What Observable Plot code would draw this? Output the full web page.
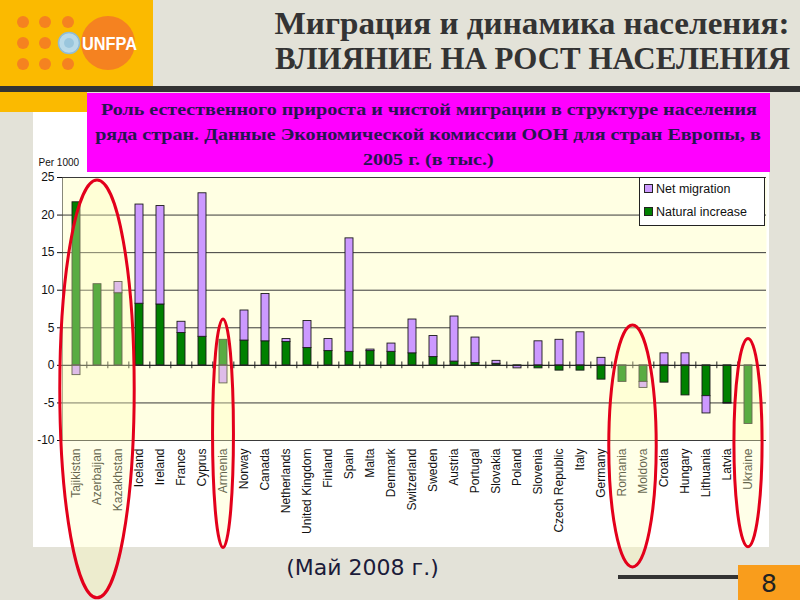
<!DOCTYPE html>
<html>
<head>
<meta charset="utf-8">
<script src="https://cdn.jsdelivr.net/npm/d3@7"></script>
<script src="https://cdn.jsdelivr.net/npm/@observablehq/plot@0.6"></script>
<style>
  html, body { margin: 0; padding: 0; }
  body { width: 800px; height: 600px; position: relative; overflow: hidden;
         background: #e3e2d8; font-family: "Liberation Sans", Arial, sans-serif; }
  .abs { position: absolute; }
  #title { right: 10px; top: 6px; text-align: right; color: #333;
           font-family: "Liberation Serif", "Times New Roman", serif; font-weight: bold; font-size: 31px; line-height: 35px; }
  #title div { white-space: nowrap; height: 35px; }
  #title span { display: inline-block; transform-origin: right center; }
  #topline { left: 0; top: 86px; width: 800px; height: 6px; background: #333; }
  #ystrip { left: 0; top: 92px; width: 87px; height: 20px; background: #FBBA00; }
  #chartbox { left: 33px; top: 112px; width: 736px; height: 435px; background: #fff; }
  #plot { left: 33px; top: 112px; }
  #magenta { left: 87px; top: 93px; width: 683px; height: 79px; background: #FF00FF; color: #261650;
             font-family: "Liberation Serif", "Times New Roman", serif; font-weight: bold; font-size: 17px;
             text-align: center; line-height: 25px; padding-top: 4px; box-sizing: border-box; }
  #magenta div { white-space: nowrap; }
  #magenta span { display: inline-block; transform-origin: center center; }
  #legend { left: 639px; top: 177px; width: 124px; height: 47px; background: #fff; border: 1px solid #222;
            font-size: 12.5px; color: #111; }
  #legend .item { position: absolute; left: 4px; white-space: nowrap; }
  #legend .sw { display: inline-block; width: 7px; height: 7px; border: 1px solid #222; margin-right: 3px; vertical-align: 0px; }
  #footer { left: 230px; width: 265px; top: 555px; text-align: center; font-family: "DejaVu Sans", Tahoma, sans-serif;
            font-size: 22px; color: #1b1b3a; }
  #botline { left: 618px; top: 575px; width: 122px; height: 4px; background: #333; }
  #pagebox { left: 738px; top: 565px; width: 62px; height: 35px; background: #F99D1C;
             font-family: "DejaVu Sans", Tahoma, sans-serif; font-size: 25px; color: #222; text-align: center; line-height: 38px; }
</style>
</head>
<body>
<svg class="abs" style="left:0;top:0" width="153" height="86">
  <rect width="153" height="86" fill="#FBBA00"/>
  <g fill="#F58220">
    <circle cx="23" cy="22" r="6"/><circle cx="45" cy="22" r="6"/><circle cx="68" cy="22" r="6"/>
    <circle cx="23" cy="43" r="6"/><circle cx="45" cy="43" r="6"/>
    <circle cx="23" cy="64" r="6"/><circle cx="45" cy="64" r="6"/><circle cx="68" cy="64" r="6"/>
    <circle cx="108" cy="43" r="27"/>
  </g>
  <circle cx="69" cy="43" r="10.5" fill="#b9d9e8" stroke="#8fbcd6" stroke-width="1.5"/>
  <circle cx="69" cy="43" r="5" fill="#9ac6dd"/>
  <text x="82" y="50" fill="#fff" font-family="Liberation Sans, Arial" font-weight="bold" font-size="18" textLength="55" lengthAdjust="spacingAndGlyphs">UNFPA</text>
</svg>
<div id="title" class="abs">
  <div><span>Миграция и динамика населения:</span></div>
  <div><span>ВЛИЯНИЕ НА РОСТ НАСЕЛЕНИЯ</span></div>
</div>
<div id="topline" class="abs"></div>
<div id="ystrip" class="abs"></div>
<div id="chartbox" class="abs"></div>
<div id="plot" class="abs"></div>
<div id="magenta" class="abs">
  <div><span>Роль естественного прироста и чистой миграции в структуре населения</span></div>
  <div><span>ряда стран. Данные Экономической комиссии ООН для стран Европы, в</span></div>
  <div><span>2005 г. (в тыс.)</span></div>
</div>
<div id="legend" class="abs">
  <div class="item" style="top:4px"><span class="sw" style="background:#CC99FF"></span>Net migration</div>
  <div class="item" style="top:27px"><span class="sw" style="background:#008000"></span>Natural increase</div>
</div>
<div id="footer" class="abs">(Май 2008 г.)</div>
<div id="botline" class="abs"></div>
<div id="pagebox" class="abs">8</div>
<script>
// ---- data (per 1000, 2005) ----
const countries = ["Tajikistan","Azerbaijan","Kazakhstan","Iceland","Ireland","France","Cyprus","Armenia","Norway","Canada","Netherlands","United Kingdom","Finland","Spain","Malta","Denmark","Switzerland","Sweden","Austria","Portugal","Slovakia","Poland","Slovenia","Czech Republic","Italy","Germany","Romania","Moldova","Croatia","Hungary","Lithuania","Latvia","Ukraine"];
const naturalIncrease = [21.7, 10.8, 9.6, 8.2, 8.1, 4.3, 3.8, 3.4, 3.3, 3.2, 3.1, 2.3, 1.9, 1.8, 1.9, 1.8, 1.6, 1.1, 0.5, 0.3, 0.2, -0.1, -0.4, -0.7, -0.7, -1.9, -2.2, -2.2, -2.3, -4.0, -4.1, -5.0, -7.8];
const netMigration    = [-1.3, 0, 1.5, 13.2, 13.1, 1.5, 19.1, -2.4, 4.0, 6.3, 0.4, 3.6, 1.6, 15.1, 0.2, 1.1, 4.5, 2.8, 6.0, 3.4, 0.4, -0.3, 3.2, 3.4, 4.4, 1.0, 0, -0.8, 1.6, 1.6, -2.3, -0.1, 0];
const seriesNames = ["Net migration", "Natural increase"];
const yTicks = [-10, -5, 0, 5, 10, 15, 20, 25];
const yLabel = "Per 1000";
// highlighted groups (red ellipses)
const highlightGroups = [["Tajikistan","Azerbaijan","Kazakhstan"], ["Armenia"], ["Romania","Moldova"], ["Ukraine"]];
const ellipseExtents = [{top: 24.6, bottom: -31, pad: 0.76}, {top: 6.1, bottom: -24.3, pad: 0.49}, {top: 5.3, bottom: -26.9, pad: 0.62}, {top: 3.5, bottom: -24.2, pad: 0.66}];

const rows = [
  ...countries.map((c, i) => ({country: c, series: "Natural increase", value: naturalIncrease[i]})),
  ...countries.map((c, i) => ({country: c, series: "Net migration", value: netMigration[i]}))
].filter(d => d.value !== 0);

const W = 737, H = 435, mL = 29, mR = 4, mT = 65, mB = 107, insetR = 4;
const pIn = 0.6, pOut = 0.21;
const step = (W - mL - mR - insetR) / (countries.length - pIn + 2 * pOut);

function ellipses(index, scales) {
  const x = scales.x, y = scales.y;
  const bw = typeof x.bandwidth === "function" ? x.bandwidth() : 0;
  const g = d3.create("svg:g");
  highlightGroups.forEach((grp, k) => {
    const e = ellipseExtents[k];
    const xs = grp.map(c => x(c) + bw / 2);
    const x0 = d3.min(xs), x1 = d3.max(xs);
    const y1 = y(e.top), y2 = y(e.bottom);
    g.append("ellipse")
      .attr("cx", (x0 + x1) / 2).attr("cy", (y1 + y2) / 2)
      .attr("rx", (x1 - x0) / 2 + e.pad * step).attr("ry", (y2 - y1) / 2)
      .attr("fill", "rgb(255,255,190)").attr("fill-opacity", 0.35)
      .attr("stroke", "#e3001b").attr("stroke-width", 3);
  });
  return g.node();
}

const chart = Plot.plot({
  width: W, height: H,
  marginLeft: mL, marginRight: mR, marginTop: mT, marginBottom: mB,
  style: {background: "transparent", fontFamily: "Liberation Sans, Arial, sans-serif", fontSize: "12px", color: "#111", overflow: "visible"},
  x: {domain: countries, paddingInner: pIn, paddingOuter: pOut, insetRight: insetR, tickSize: 0, tickRotate: -90, tickPadding: 8, label: null},
  y: {domain: [-10, 25], ticks: yTicks, tickSize: 5, tickPadding: 3, tickFormat: d => String(d), label: null, line: true},
  color: {domain: seriesNames, range: ["#CC99FF", "#008000"]},
  marks: [
    Plot.frame({fill: "#FFFFE3", stroke: null}),
    Plot.ruleY(yTicks, {stroke: "#3a3a3a", strokeWidth: 1}),
    Plot.barY(rows, {x: "country", y: "value", fill: "series", stroke: "#1a1a1a", strokeWidth: 0.9}),
    Plot.ruleY([0], {stroke: "#222", strokeWidth: 1}),
    Plot.ruleX(countries.slice(1), {y1: -0.45, y2: 0.45, dx: -step / 2, stroke: "#222", strokeWidth: 1}),
    Plot.text([yLabel], {frameAnchor: "top-left", textAnchor: "start", dx: -24, dy: -19, fontSize: 10, fill: "#111"}),
    ellipses
  ]
});
document.getElementById("plot").appendChild(chart);

// fit header texts to the widths seen in the reference
function fit(span, target) {
  const w = span.getBoundingClientRect().width;
  span.style.transform = `scaleX(${target / w})`;
  return target / w;
}
const tspans = document.querySelectorAll("#title span");
fit(tspans[0], 515); fit(tspans[1], 515);
const mspans = document.querySelectorAll("#magenta span");
const s = fit(mspans[0], 656);
mspans[1].style.transform = `scaleX(${s})`;
mspans[2].style.transform = `scaleX(${s})`;
</script>
</body>
</html>
